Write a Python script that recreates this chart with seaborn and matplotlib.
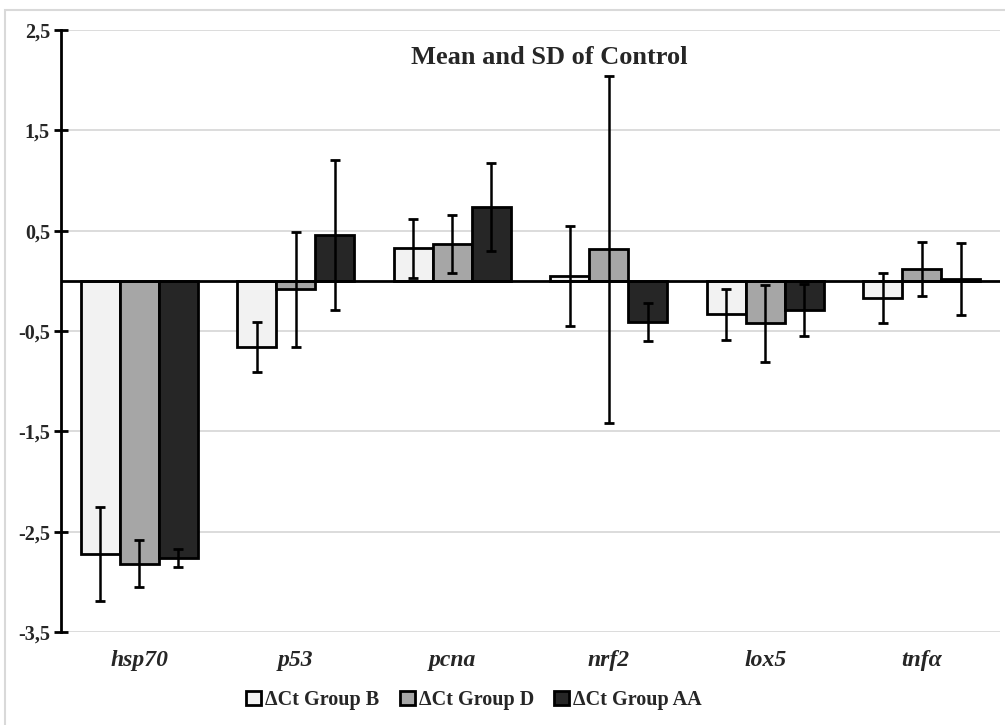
import numpy as np
import pandas as pd
import seaborn as sns
import matplotlib
matplotlib.use("Agg")
import matplotlib.pyplot as plt
from matplotlib.patches import Rectangle, Patch
from matplotlib.ticker import FixedLocator, FuncFormatter

genes = ["hsp70", "p53", "pcna", "nrf2", "lox5", "tnfα"]
groups = ["ΔCt Group B", "ΔCt Group D", "ΔCt Group AA"]

mean_b = [-2.72, -0.66, 0.325, 0.05, -0.335, -0.175]
mean_d = [-2.82, -0.085, 0.365, 0.315, -0.425, 0.115]
mean_aa = [-2.76, 0.455, 0.735, -0.41, -0.29, 0.015]

sd_b = [0.47, 0.25, 0.295, 0.50, 0.25, 0.25]
sd_d = [0.235, 0.575, 0.29, 1.73, 0.38, 0.27]
sd_aa = [0.09, 0.75, 0.435, 0.19, 0.26, 0.36]

colors = ["#f2f2f2", "#a6a6a6", "#262626"]

y_ticks = [2.5, 1.5, 0.5, -0.5, -1.5, -2.5, -3.5]

df = pd.DataFrame({
    "gene": genes * 3,
    "group": [groups[0]] * 6 + [groups[1]] * 6 + [groups[2]] * 6,
    "mean": mean_b + mean_d + mean_aa,
    "sd": sd_b + sd_d + sd_aa,
})

sns.set_theme(style="white")
plt.rcParams["font.family"] = ["Liberation Serif", "DejaVu Serif"]

W, H = 1005, 725
fig = plt.figure(figsize=(W / 100, H / 100), dpi=100)
fig.patch.set_facecolor("white")

# light chart-area frame
fig.patches.append(Rectangle((5 / W, 0 - 0.01), 1.0, 1 - 10 / H + 0.01,
                             transform=fig.transFigure, fill=False,
                             edgecolor="#d9d9d9", lw=1.5))

ax = fig.add_axes([61 / W, (H - 632) / H, 939 / W, 602 / H])

sns.barplot(data=df, x="gene", y="mean", hue="group", order=genes,
            hue_order=groups, palette=colors, width=0.75, errorbar=None,
            edgecolor="black", linewidth=2.0, saturation=1, ax=ax,
            legend=False, zorder=3)

# SD error bars at each bar's center
for container, grp in zip(ax.containers, groups):
    sub = df[df["group"] == grp].set_index("gene").loc[genes]
    xs = [p.get_x() + p.get_width() / 2 for p in container.patches]
    ax.errorbar(xs, sub["mean"].values, yerr=sub["sd"].values, fmt="none",
                ecolor="black", elinewidth=1.8, capsize=3.5, capthick=2,
                zorder=5)

ax.axhline(0, color="black", lw=2, zorder=4)

ax.set_xlim(-0.5, 5.5)
ax.set_ylim(-3.5, 2.5)
ax.yaxis.set_major_locator(FixedLocator(y_ticks))
ax.yaxis.set_major_formatter(FuncFormatter(lambda v, p: f"{v:.1f}".replace(".", ",")))
ax.grid(axis="y", color="#d9d9d9", lw=1.3, zorder=0)
ax.grid(axis="x", visible=False)
ax.set_axisbelow(True)

for s in ["top", "right", "bottom"]:
    ax.spines[s].set_visible(False)
ax.spines["left"].set_color("black")
ax.spines["left"].set_linewidth(2)
ax.spines["left"].set_zorder(6)

ax.tick_params(axis="y", direction="inout", length=10, width=2, color="black",
               labelsize=14.5, pad=3, left=True)
ax.tick_params(axis="x", length=0, pad=13, labelsize=17)
for lab in ax.get_yticklabels():
    lab.set_fontweight("bold")
for lab in ax.get_xticklabels():
    lab.set_fontweight("bold")
    lab.set_fontstyle("italic")

ax.set_xlabel("")
ax.set_ylabel("")

ax.text(0.52, 0.955, "Mean and SD of Control", transform=ax.transAxes,
        ha="center", va="center", fontsize=19, fontweight="bold")

handles = [Patch(facecolor=c, edgecolor="black", linewidth=2) for c in colors]
leg = fig.legend(handles, groups, loc="center", bbox_to_anchor=(474 / W, (H - 700) / H),
                 ncol=3, frameon=False, handlelength=0.75, handleheight=0.75,
                 handletextpad=0.2, columnspacing=1.0,
                 prop={"family": "Liberation Serif", "weight": "bold", "size": 14.5})

fig.savefig("out.png", dpi=100, facecolor="white")
